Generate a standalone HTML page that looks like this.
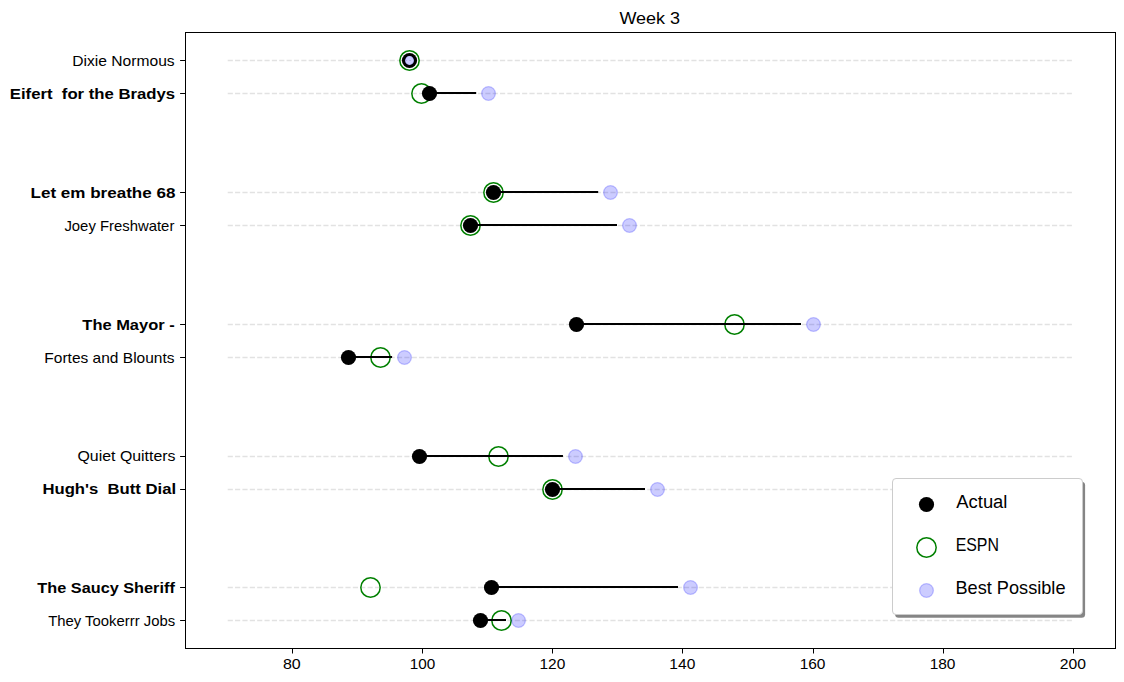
<!DOCTYPE html>
<html><head><meta charset="utf-8"><title>Week 3</title>
<style>html,body{margin:0;padding:0;background:#fff;width:1124px;height:682px;overflow:hidden}
text{font-family:"Liberation Sans",sans-serif}</style></head>
<body>
<svg width="1124" height="682" viewBox="0 0 1124 682" style="display:block;font-family:'Liberation Sans',sans-serif">
<rect x="0" y="0" width="1124" height="682" fill="#fff"/>
<line x1="227.71" y1="60.50" x2="1073.88" y2="60.50" stroke="#e2e2e2" stroke-width="1.39" stroke-dasharray="5.14,2.22"/>
<line x1="227.71" y1="93.50" x2="1073.88" y2="93.50" stroke="#e2e2e2" stroke-width="1.39" stroke-dasharray="5.14,2.22"/>
<line x1="227.71" y1="192.50" x2="1073.88" y2="192.50" stroke="#e2e2e2" stroke-width="1.39" stroke-dasharray="5.14,2.22"/>
<line x1="227.71" y1="225.50" x2="1073.88" y2="225.50" stroke="#e2e2e2" stroke-width="1.39" stroke-dasharray="5.14,2.22"/>
<line x1="227.71" y1="324.50" x2="1073.88" y2="324.50" stroke="#e2e2e2" stroke-width="1.39" stroke-dasharray="5.14,2.22"/>
<line x1="227.71" y1="357.50" x2="1073.88" y2="357.50" stroke="#e2e2e2" stroke-width="1.39" stroke-dasharray="5.14,2.22"/>
<line x1="227.71" y1="456.50" x2="1073.88" y2="456.50" stroke="#e2e2e2" stroke-width="1.39" stroke-dasharray="5.14,2.22"/>
<line x1="227.71" y1="489.50" x2="1073.88" y2="489.50" stroke="#e2e2e2" stroke-width="1.39" stroke-dasharray="5.14,2.22"/>
<line x1="227.71" y1="587.50" x2="1073.88" y2="587.50" stroke="#e2e2e2" stroke-width="1.39" stroke-dasharray="5.14,2.22"/>
<line x1="227.71" y1="620.50" x2="1073.88" y2="620.50" stroke="#e2e2e2" stroke-width="1.39" stroke-dasharray="5.14,2.22"/>
<line x1="429.50" y1="93.00" x2="476.10" y2="93.00" stroke="#000" stroke-width="2.0"/>
<line x1="493.50" y1="192.00" x2="598.10" y2="192.00" stroke="#000" stroke-width="2.0"/>
<line x1="470.50" y1="225.00" x2="617.00" y2="225.00" stroke="#000" stroke-width="2.0"/>
<line x1="576.50" y1="324.00" x2="801.00" y2="324.00" stroke="#000" stroke-width="2.0"/>
<line x1="348.50" y1="357.00" x2="392.05" y2="357.00" stroke="#000" stroke-width="2.0"/>
<line x1="419.50" y1="456.00" x2="562.80" y2="456.00" stroke="#000" stroke-width="2.0"/>
<line x1="552.50" y1="489.00" x2="645.00" y2="489.00" stroke="#000" stroke-width="2.0"/>
<line x1="491.50" y1="587.00" x2="678.00" y2="587.00" stroke="#000" stroke-width="2.0"/>
<line x1="480.50" y1="620.00" x2="506.00" y2="620.00" stroke="#000" stroke-width="2.0"/>
<circle cx="409.50" cy="60.50" r="9.68" fill="none" stroke="#008000" stroke-width="1.5"/>
<circle cx="421.50" cy="93.50" r="9.68" fill="none" stroke="#008000" stroke-width="1.5"/>
<circle cx="493.50" cy="192.50" r="9.68" fill="none" stroke="#008000" stroke-width="1.5"/>
<circle cx="470.50" cy="225.50" r="9.68" fill="none" stroke="#008000" stroke-width="1.5"/>
<circle cx="734.50" cy="324.50" r="9.68" fill="none" stroke="#008000" stroke-width="1.5"/>
<circle cx="380.50" cy="357.50" r="9.68" fill="none" stroke="#008000" stroke-width="1.5"/>
<circle cx="498.50" cy="456.50" r="9.68" fill="none" stroke="#008000" stroke-width="1.5"/>
<circle cx="552.50" cy="489.50" r="9.68" fill="none" stroke="#008000" stroke-width="1.5"/>
<circle cx="370.50" cy="587.50" r="9.68" fill="none" stroke="#008000" stroke-width="1.5"/>
<circle cx="501.50" cy="620.50" r="9.68" fill="none" stroke="#008000" stroke-width="1.5"/>
<line x1="429.50" y1="93.00" x2="476.10" y2="93.00" stroke="#000" stroke-width="2.0"/>
<line x1="493.50" y1="192.00" x2="598.10" y2="192.00" stroke="#000" stroke-width="2.0"/>
<line x1="470.50" y1="225.00" x2="617.00" y2="225.00" stroke="#000" stroke-width="2.0"/>
<line x1="576.50" y1="324.00" x2="801.00" y2="324.00" stroke="#000" stroke-width="2.0"/>
<line x1="348.50" y1="357.00" x2="392.05" y2="357.00" stroke="#000" stroke-width="2.0"/>
<line x1="419.50" y1="456.00" x2="562.80" y2="456.00" stroke="#000" stroke-width="2.0"/>
<line x1="552.50" y1="489.00" x2="645.00" y2="489.00" stroke="#000" stroke-width="2.0"/>
<line x1="491.50" y1="587.00" x2="678.00" y2="587.00" stroke="#000" stroke-width="2.0"/>
<line x1="480.50" y1="620.00" x2="506.00" y2="620.00" stroke="#000" stroke-width="2.0"/>
<circle cx="409.50" cy="60.50" r="7.6" fill="#000"/>
<circle cx="429.50" cy="93.50" r="7.6" fill="#000"/>
<circle cx="493.50" cy="192.50" r="7.6" fill="#000"/>
<circle cx="470.50" cy="225.50" r="7.6" fill="#000"/>
<circle cx="576.50" cy="324.50" r="7.6" fill="#000"/>
<circle cx="348.50" cy="357.50" r="7.6" fill="#000"/>
<circle cx="419.50" cy="456.50" r="7.6" fill="#000"/>
<circle cx="552.50" cy="489.50" r="7.6" fill="#000"/>
<circle cx="491.50" cy="587.50" r="7.6" fill="#000"/>
<circle cx="480.50" cy="620.50" r="7.6" fill="#000"/>
<circle cx="409.50" cy="60.50" r="4.4" fill="#fff"/>
<line x1="405.10" y1="60.50" x2="413.90" y2="60.50" stroke="#dcdcdc" stroke-width="1.2" stroke-dasharray="2,2"/>
<circle cx="409.50" cy="60.50" r="4.1" fill="#0000ff" fill-opacity="0.2" stroke="#0000ff" stroke-opacity="0.2" stroke-width="0.8"/>
<circle cx="488.50" cy="93.50" r="6.9" fill="#0000ff" fill-opacity="0.2" stroke="#0000ff" stroke-opacity="0.2" stroke-width="1.39"/>
<circle cx="610.50" cy="192.50" r="6.9" fill="#0000ff" fill-opacity="0.2" stroke="#0000ff" stroke-opacity="0.2" stroke-width="1.39"/>
<circle cx="629.50" cy="225.50" r="6.9" fill="#0000ff" fill-opacity="0.2" stroke="#0000ff" stroke-opacity="0.2" stroke-width="1.39"/>
<circle cx="813.50" cy="324.50" r="6.9" fill="#0000ff" fill-opacity="0.2" stroke="#0000ff" stroke-opacity="0.2" stroke-width="1.39"/>
<circle cx="404.50" cy="357.50" r="6.9" fill="#0000ff" fill-opacity="0.2" stroke="#0000ff" stroke-opacity="0.2" stroke-width="1.39"/>
<circle cx="575.50" cy="456.50" r="6.9" fill="#0000ff" fill-opacity="0.2" stroke="#0000ff" stroke-opacity="0.2" stroke-width="1.39"/>
<circle cx="657.50" cy="489.50" r="6.9" fill="#0000ff" fill-opacity="0.2" stroke="#0000ff" stroke-opacity="0.2" stroke-width="1.39"/>
<circle cx="690.50" cy="587.50" r="6.9" fill="#0000ff" fill-opacity="0.2" stroke="#0000ff" stroke-opacity="0.2" stroke-width="1.39"/>
<circle cx="518.50" cy="620.50" r="6.9" fill="#0000ff" fill-opacity="0.2" stroke="#0000ff" stroke-opacity="0.2" stroke-width="1.39"/>
<rect x="185.5" y="32.5" width="930.00" height="616.00" fill="none" stroke="#000" stroke-width="1" stroke-linejoin="miter" stroke-linecap="square"/>
<line x1="180.10" y1="60.50" x2="185.5" y2="60.50" stroke="#000" stroke-width="1"/>
<line x1="180.10" y1="93.50" x2="185.5" y2="93.50" stroke="#000" stroke-width="1"/>
<line x1="180.10" y1="192.50" x2="185.5" y2="192.50" stroke="#000" stroke-width="1"/>
<line x1="180.10" y1="225.50" x2="185.5" y2="225.50" stroke="#000" stroke-width="1"/>
<line x1="180.10" y1="324.50" x2="185.5" y2="324.50" stroke="#000" stroke-width="1"/>
<line x1="180.10" y1="357.50" x2="185.5" y2="357.50" stroke="#000" stroke-width="1"/>
<line x1="180.10" y1="456.50" x2="185.5" y2="456.50" stroke="#000" stroke-width="1"/>
<line x1="180.10" y1="489.50" x2="185.5" y2="489.50" stroke="#000" stroke-width="1"/>
<line x1="180.10" y1="587.50" x2="185.5" y2="587.50" stroke="#000" stroke-width="1"/>
<line x1="180.10" y1="620.50" x2="185.5" y2="620.50" stroke="#000" stroke-width="1"/>
<line x1="292.50" y1="648.5" x2="292.50" y2="653.50" stroke="#000" stroke-width="1"/>
<line x1="422.50" y1="648.5" x2="422.50" y2="653.50" stroke="#000" stroke-width="1"/>
<line x1="552.50" y1="648.5" x2="552.50" y2="653.50" stroke="#000" stroke-width="1"/>
<line x1="682.50" y1="648.5" x2="682.50" y2="653.50" stroke="#000" stroke-width="1"/>
<line x1="813.50" y1="648.5" x2="813.50" y2="653.50" stroke="#000" stroke-width="1"/>
<line x1="943.50" y1="648.5" x2="943.50" y2="653.50" stroke="#000" stroke-width="1"/>
<line x1="1073.50" y1="648.5" x2="1073.50" y2="653.50" stroke="#000" stroke-width="1"/>
<rect x="895.10" y="481.70" width="190.00" height="136.00" rx="3.5" fill="#000" fill-opacity="0.48"/>
<rect x="892.50" y="478.50" width="190.00" height="136.00" rx="3.5" fill="#fff" stroke="#cccccc" stroke-width="1.0"/>
<circle cx="926.5" cy="504.5" r="7.6" fill="#000"/>
<circle cx="926.5" cy="547.5" r="9.68" fill="none" stroke="#008000" stroke-width="1.5"/>
<circle cx="926.5" cy="590.5" r="6.9" fill="#0000ff" fill-opacity="0.2" stroke="#0000ff" stroke-opacity="0.2" stroke-width="1.39"/>
<text transform="translate(72.25,66.05) scale(1.1158,1)" font-size="14.0" font-weight="400" fill="#000" xml:space="preserve">Dixie Normous</text>
<text transform="translate(9.83,98.99) scale(1.1949,1)" font-size="14.0" font-weight="700" fill="#000" xml:space="preserve">Eifert  for the Bradys</text>
<text transform="translate(30.61,197.81) scale(1.2168,1)" font-size="14.0" font-weight="700" fill="#000" xml:space="preserve">Let em breathe 68</text>
<text transform="translate(64.40,230.75) scale(1.0632,1)" font-size="14.0" font-weight="400" fill="#000" xml:space="preserve">Joey Freshwater</text>
<text transform="translate(82.34,329.57) scale(1.1768,1)" font-size="14.0" font-weight="700" fill="#000" xml:space="preserve">The Mayor -</text>
<text transform="translate(44.36,362.51) scale(1.1085,1)" font-size="14.0" font-weight="400" fill="#000" xml:space="preserve">Fortes and Blounts</text>
<text transform="translate(77.50,461.33) scale(1.1360,1)" font-size="14.0" font-weight="400" fill="#000" xml:space="preserve">Quiet Quitters</text>
<text transform="translate(42.43,494.27) scale(1.1926,1)" font-size="14.0" font-weight="700" fill="#000" xml:space="preserve">Hugh&#39;s  Butt Dial</text>
<text transform="translate(37.34,593.09) scale(1.1637,1)" font-size="14.0" font-weight="700" fill="#000" xml:space="preserve">The Saucy Sheriff</text>
<text transform="translate(48.20,626.03) scale(1.0622,1)" font-size="14.0" font-weight="400" fill="#000" xml:space="preserve">They Tookerrr Jobs</text>
<text transform="translate(282.96,669.00) scale(1.1442,1)" font-size="14.0" font-weight="400" fill="#000" xml:space="preserve">80</text>
<text transform="translate(409.68,669.00) scale(1.0922,1)" font-size="14.0" font-weight="400" fill="#000" xml:space="preserve">100</text>
<text transform="translate(539.46,669.00) scale(1.1060,1)" font-size="14.0" font-weight="400" fill="#000" xml:space="preserve">120</text>
<text transform="translate(669.36,669.00) scale(1.1106,1)" font-size="14.0" font-weight="400" fill="#000" xml:space="preserve">140</text>
<text transform="translate(799.66,669.00) scale(1.1060,1)" font-size="14.0" font-weight="400" fill="#000" xml:space="preserve">160</text>
<text transform="translate(929.66,669.00) scale(1.1060,1)" font-size="14.0" font-weight="400" fill="#000" xml:space="preserve">180</text>
<text transform="translate(1059.82,669.00) scale(1.1212,1)" font-size="14.0" font-weight="400" fill="#000" xml:space="preserve">200</text>
<text transform="translate(619.42,23.80) scale(1.0352,1)" font-size="17.4" font-weight="400" fill="#000" xml:space="preserve">Week 3</text>
<text transform="translate(956.30,508.30) scale(1.0462,1)" font-size="17.6" font-weight="400" fill="#000" xml:space="preserve">Actual</text>
<text transform="translate(955.63,550.90) scale(0.9033,1)" font-size="17.6" font-weight="400" fill="#000" xml:space="preserve">ESPN</text>
<text transform="translate(955.45,594.20) scale(1.0329,1)" font-size="17.6" font-weight="400" fill="#000" xml:space="preserve">Best Possible</text>
</svg>
</body></html>
